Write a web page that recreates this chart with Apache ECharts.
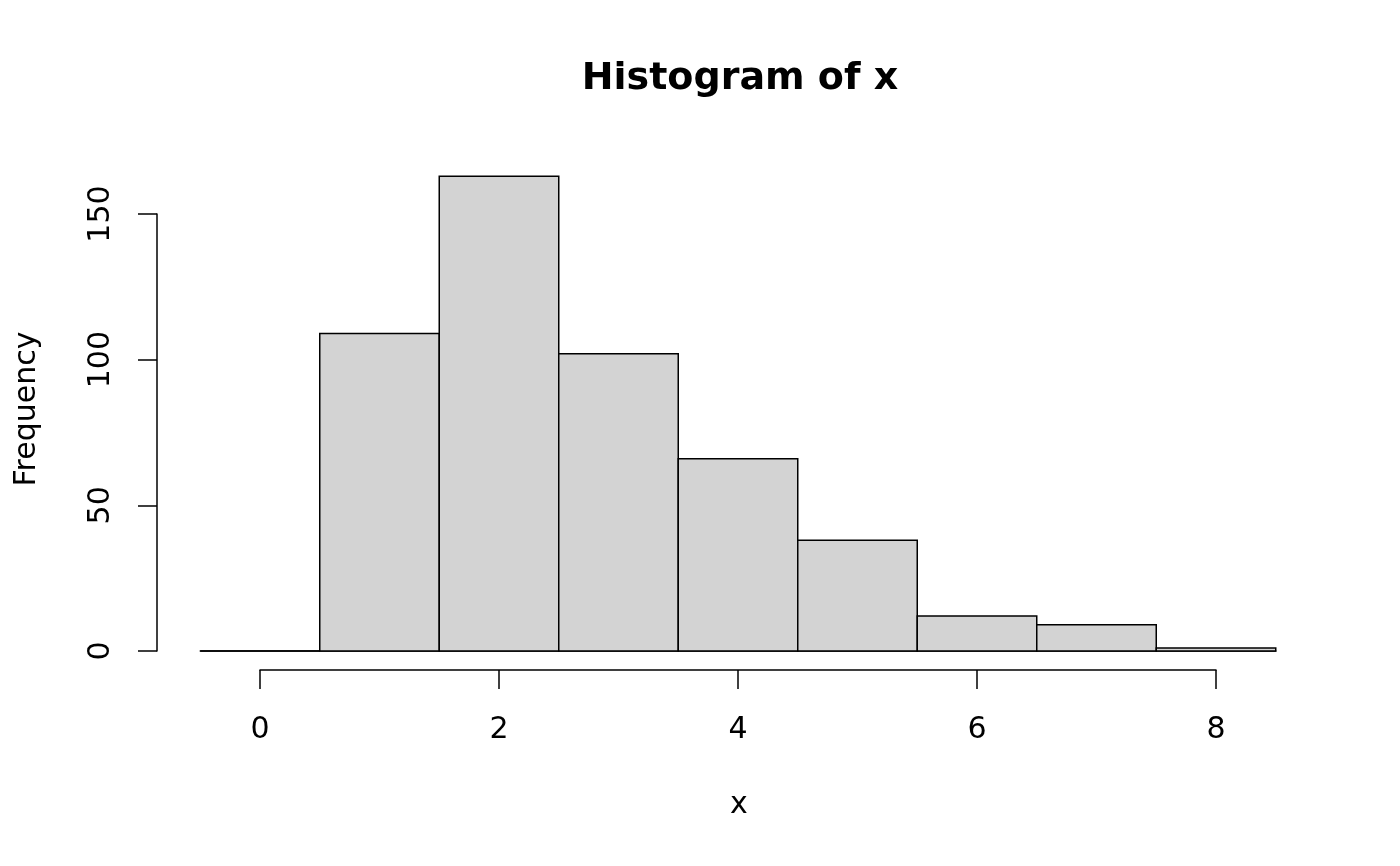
<!DOCTYPE html>
<html>
<head>
<meta charset="utf-8">
<script src="https://cdn.jsdelivr.net/npm/echarts@6/dist/echarts.min.js"></script>
<style>html,body{margin:0;padding:0;background:#fff}#c{width:1400px;height:866px}</style>
</head>
<body>
<div id="c"></div>
<script>
var binStarts = [-0.5, 0.5, 1.5, 2.5, 3.5, 4.5, 5.5, 6.5, 7.5];
var binEnds   = [0.5, 1.5, 2.5, 3.5, 4.5, 5.5, 6.5, 7.5, 8.5];
var counts    = [0, 109, 163, 102, 66, 38, 12, 9, 1];
var xTicks = [0, 2, 4, 6, 8];
var yTicks = [0, 50, 100, 150];
var titleText = 'Histogram of x';
var xName = 'x';
var yName = 'Frequency';

var FONT = 'DejaVu Sans';
var LW = 1.5;
var data = counts.map(function (c, i) { return [binStarts[i], binEnds[i], c]; });

var chart = echarts.init(document.getElementById('c'), null, {renderer: 'canvas'});
chart.setOption({
  animation: false,
  backgroundColor: '#ffffff',
  title: {
    text: titleText, left: 735, top: 55, textAlign: 'center',
    textStyle: {fontFamily: FONT, fontSize: 38, fontWeight: 'bold', color: '#000'}
  },
  graphic: [
    {type: 'text', x: 739, y: 805, style: {text: xName, fontFamily: FONT, fontSize: 30, fill: '#000', textAlign: 'center', textVerticalAlign: 'middle'}},
    {type: 'text', x: 27, y: 409, rotation: Math.PI / 2, style: {text: yName, fontFamily: FONT, fontSize: 30, fill: '#000', textAlign: 'center', textVerticalAlign: 'middle'}}
  ],
  grid: [
    {left: 200.25, right: 124.25, top: 214, bottom: 215, containLabel: false},
    {left: 260, width: 956, top: 214, bottom: 215, containLabel: false}
  ],
  xAxis: [
    {type: 'value', gridIndex: 0, min: -0.5, max: 8.5,
     axisLine: {show: true, onZero: false, lineStyle: {color: '#000', width: LW}},
     axisTick: {show: false}, axisLabel: {show: false}, splitLine: {show: false}},
    {type: 'value', gridIndex: 1, min: xTicks[0], max: xTicks[xTicks.length - 1], interval: 2, offset: 19,
     axisLine: {show: true, onZero: false, lineStyle: {color: '#000', width: LW}},
     axisTick: {show: true, length: 19, lineStyle: {color: '#000', width: LW}},
     axisLabel: {show: true, margin: 45, fontFamily: FONT, fontSize: 30, color: '#000'},
     splitLine: {show: false}}
  ],
  yAxis: [
    {type: 'value', gridIndex: 0, min: yTicks[0], max: yTicks[yTicks.length - 1], interval: 50, offset: 43.25,
     axisLine: {show: true, onZero: false, lineStyle: {color: '#000', width: LW}},
     axisTick: {show: true, length: 19, lineStyle: {color: '#000', width: LW}},
     axisLabel: {show: true, rotate: 90, margin: 40.5, fontFamily: FONT, fontSize: 30, color: '#000'},
     splitLine: {show: false}},
    {type: 'value', gridIndex: 1, show: false, min: 0, max: 150}
  ],
  series: [{
    type: 'custom',
    xAxisIndex: 0, yAxisIndex: 0,
    clip: false,
    data: data,
    encode: {x: [0, 1], y: 2},
    renderItem: function (params, api) {
      var p0 = api.coord([api.value(0), api.value(2)]);
      var p1 = api.coord([api.value(1), 0]);
      return {
        type: 'rect',
        shape: {x: p0[0], y: p0[1], width: p1[0] - p0[0], height: p1[1] - p0[1]},
        style: {fill: '#d3d3d3', stroke: '#000', lineWidth: LW}
      };
    }
  }]
});
</script>
</body>
</html>
